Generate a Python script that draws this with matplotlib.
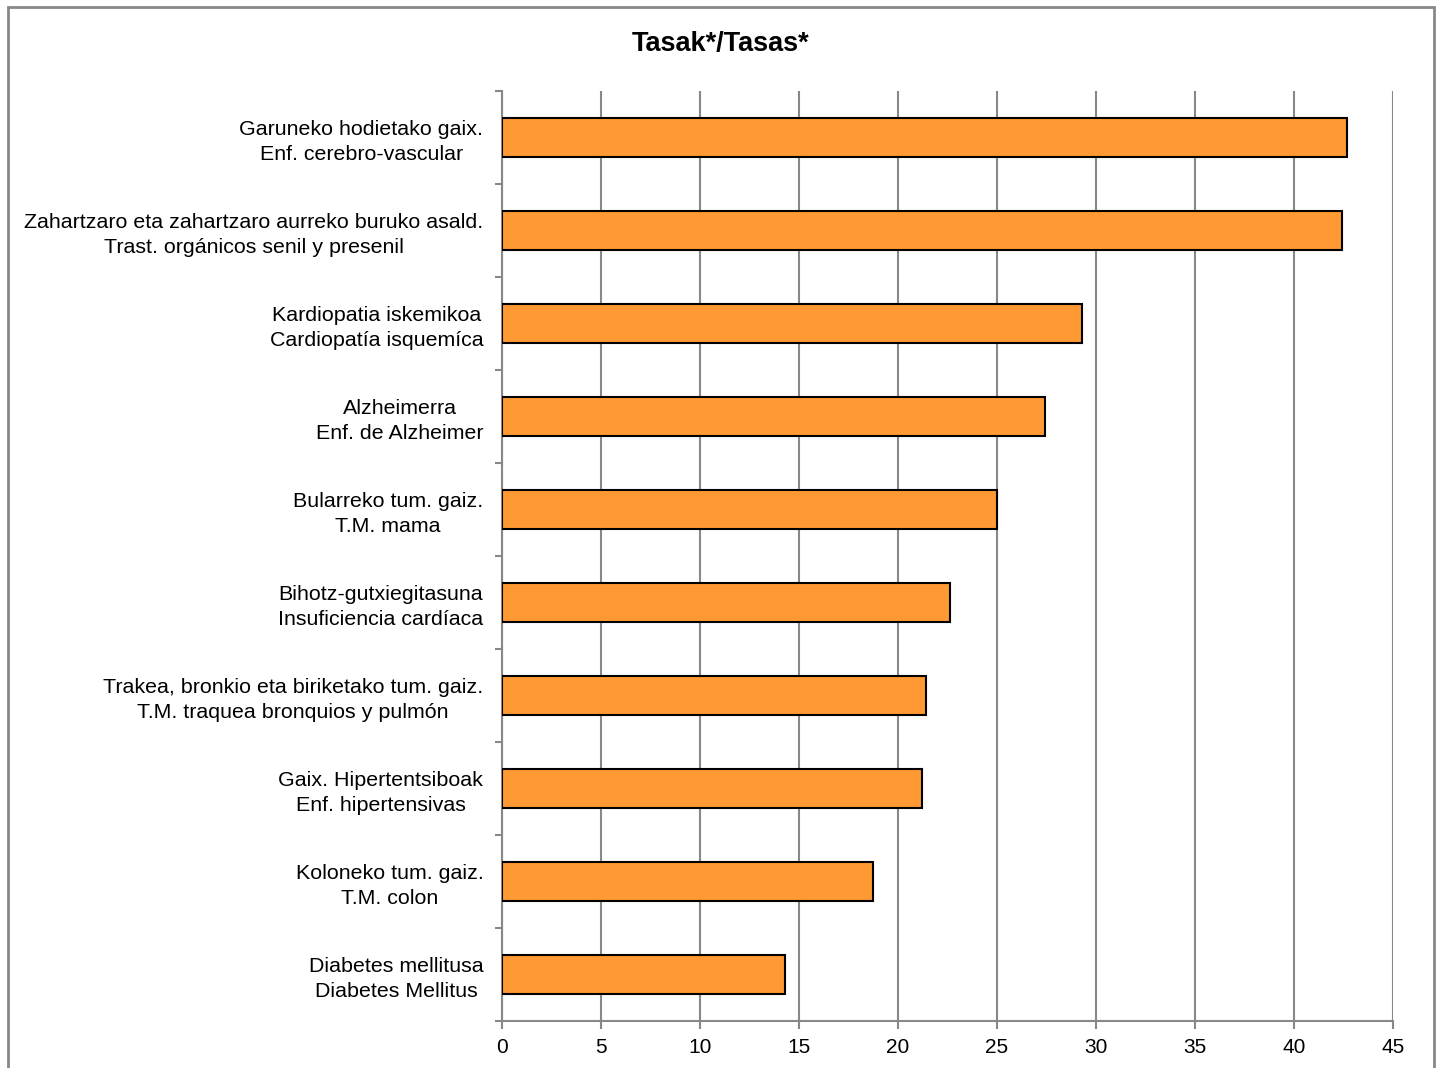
import matplotlib
matplotlib.use("Agg")
import matplotlib.pyplot as plt
from matplotlib.patches import Rectangle

categories = [
    "Garuneko hodietako gaix.\nEnf. cerebro-vascular",
    "Zahartzaro eta zahartzaro aurreko buruko asald.\nTrast. orgánicos senil y presenil",
    "Kardiopatia iskemikoa\nCardiopatía isquemíca",
    "Alzheimerra\nEnf. de Alzheimer",
    "Bularreko tum. gaiz.\nT.M. mama",
    "Bihotz-gutxiegitasuna\nInsuficiencia cardíaca",
    "Trakea, bronkio eta biriketako tum. gaiz.\nT.M. traquea bronquios y pulmón",
    "Gaix. Hipertentsiboak\nEnf. hipertensivas",
    "Koloneko tum. gaiz.\nT.M. colon",
    "Diabetes mellitusa\nDiabetes Mellitus",
]
values = [42.68, 42.42, 29.29, 27.42, 25.0, 22.63, 21.41, 21.21, 18.74, 14.29]
xticks = [0, 5, 10, 15, 20, 25, 30, 35, 40, 45]
title = "Tasak*/Tasas*"

plt.rcParams['font.family'] = ['Liberation Sans', 'DejaVu Sans']

fig = plt.figure(figsize=(14.4, 10.68), dpi=100)
fig.patches.append(Rectangle((8/1440, -0.05), (1434-8)/1440, 1 - 7/1068 + 0.05,
                             transform=fig.transFigure, fill=False,
                             edgecolor='#888888', linewidth=2, zorder=0))
ax = fig.add_axes([502/1440, 1 - 1021/1068, (1393-502)/1440, (1021-91)/1068])

n = len(categories)
ypos = list(range(n))
ax.barh(ypos, values, height=0.41, color='#FF9933', edgecolor='black', linewidth=1.5, zorder=3)
ax.set_ylim(n - 0.5, -0.5)
ax.set_xlim(0, 45)
ax.set_xticks(xticks)
ax.set_xticklabels([str(t) for t in xticks], fontsize=15)
ax.set_yticks(ypos)
ax.set_yticklabels(categories, fontsize=15.4, multialignment='center', linespacing=1.38)
ax.set_yticks([i - 0.5 for i in range(n + 1)], minor=True)
ax.tick_params(axis='y', which='major', length=0, pad=13.5)
ax.tick_params(axis='y', which='minor', length=5, color='#888888', width=1.5, direction='out')
ax.tick_params(axis='x', which='major', length=6, color='#888888', width=1.5, direction='out', pad=6)
ax.grid(axis='x', color='#888888', linewidth=1.5, zorder=0)
ax.set_axisbelow(True)
for s in ['top', 'right']:
    ax.spines[s].set_visible(False)
for s in ['left', 'bottom']:
    ax.spines[s].set_color('#888888')
    ax.spines[s].set_linewidth(1.5)

fig.text(721/1440, 1 - 44/1068, title, ha='center', va='center', fontsize=19.5, fontweight='bold')

fig.savefig('out.png', dpi=100)
